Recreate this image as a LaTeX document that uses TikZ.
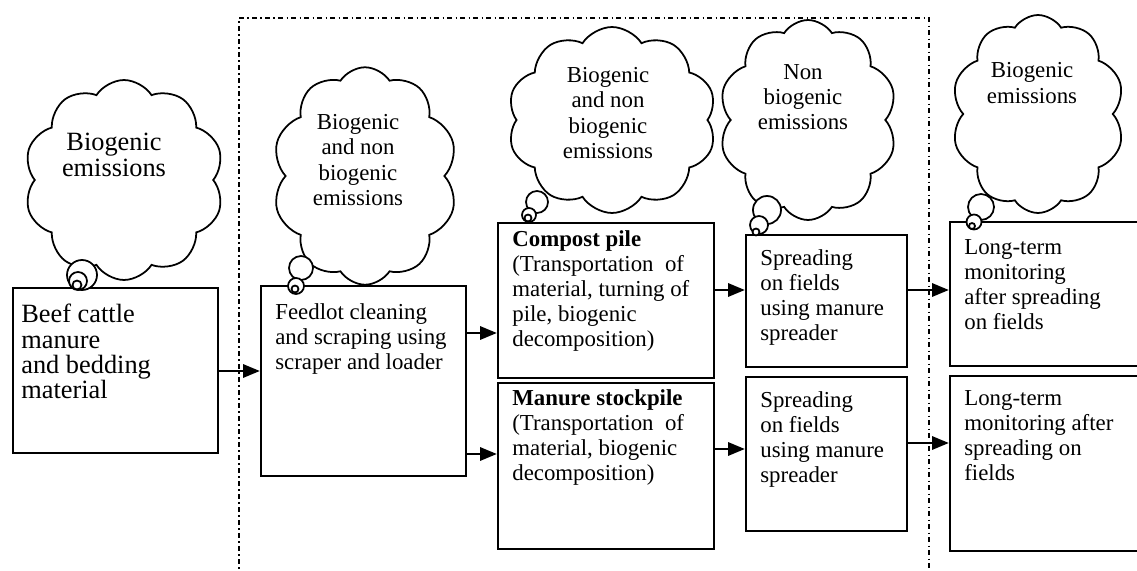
\documentclass[tikz,border=0pt]{standalone}
\usepackage{fontspec}
\setmainfont{Liberation Serif}
\usetikzlibrary{arrows.meta,shapes.symbols,fit}

\newcommand{\flowfont}{\fontsize{13}{14.3}\selectfont}
\newcommand{\sourcefont}{\fontsize{15}{14.4}\selectfont}

\begin{document}
\begin{tikzpicture}[x=0.02cm,y=-0.02cm,
    stage/.style={draw,line width=1.3pt,inner sep=0pt},
    stagetext/.style={anchor=north west,align=left,inner sep=0pt,font=\flowfont},
    thought/.style={cloud,cloud puffs=10,cloud puff arc=115,cloud ignores aspect,draw,fill=white,line width=1pt,inner sep=0pt},
    thoughttext/.style={align=center,inner sep=0pt,font=\flowfont},
    bubble/.style={draw,fill=white,line width=1pt},
    flow/.style={-{Triangle[length=9.5pt,width=7.5pt]},line width=1.3pt},
    region/.style={line width=1.3pt,dash pattern=on 3pt off 1.8pt on 0.8pt off 1.8pt}]

    \clip (0,0) rectangle (1137,571);

    % dash-dot frame, open at the bottom
    \draw[region] (239,590) -- (239,18) -- (929,18) -- (929,590);

    % emission clouds
    \node[thought,minimum width=4.0cm,minimum height=4.0cm] (cloudcattle) at (124,180) {};
    \node[thought,minimum width=3.7cm,minimum height=4.35cm] (cloudfeedlot) at (365,176) {};
    \node[thought,minimum width=4.18cm,minimum height=3.72cm] (cloudcompost) at (612,120) {};
    \node[thought,minimum width=3.56cm,minimum height=4.0cm] (cloudspread) at (808,120) {};
    \node[thought,minimum width=3.46cm,minimum height=3.96cm] (cloudmonitor) at (1038,114) {};

    \node[thoughttext,font=\sourcefont] (emitcattle) at (114,155) {Biogenic\\emissions};
    \node[thoughttext] (emitfeedlot) at (358,160) {Biogenic\\and non\\biogenic\\emissions};
    \node[thoughttext] (emitcompost) at (608,113) {Biogenic\\and non\\biogenic\\emissions};
    \node[thoughttext] (emitspread) at (803,97) {Non\\biogenic\\emissions};
    \node[thoughttext] (emitmonitor) at (1032,83) {Biogenic\\emissions};

    % process boxes
    \node[stage,fit={(13,288) (218,453)}] (cattle) {};
    \node[stage,fit={(261,286) (466,476)}] (feedlot) {};
    \node[stage,fit={(498,223) (714,378)}] (compost) {};
    \node[stage,fit={(498,383) (714,549)}] (stockpile) {};
    \node[stage,fit={(746,235) (907,367)}] (spreadA) {};
    \node[stage,fit={(746,377) (907,531)}] (spreadB) {};
    \node[stage,fit={(950,222) (1150,366)}] (monitorA) {};
    \node[stage,fit={(950,376) (1150,551)}] (monitorB) {};

    \node[stagetext,font=\sourcefont] (cattletext) at (21,304) {Beef cattle\\manure\\and bedding\\material};
    \node[stagetext] (feedlottext) at (275,303) {Feedlot cleaning\\and scraping using\\scraper and loader};
    \node[stagetext] (composttext) at (512,230) {\textbf{Compost pile}\\(Transportation\ \ of\\material, turning of\\pile, biogenic\\decomposition)};
    \node[stagetext] (stockpiletext) at (512,389) {\textbf{Manure stockpile}\\(Transportation\ \ of\\material, biogenic\\decomposition)};
    \node[stagetext] (spreadAtext) at (760,249) {Spreading\\on fields\\using manure\\spreader};
    \node[stagetext] (spreadBtext) at (760,391) {Spreading\\on fields\\using manure\\spreader};
    \node[stagetext] (monitorAtext) at (964,239) {Long-term\\monitoring\\after spreading\\on fields};
    \node[stagetext] (monitorBtext) at (964,390) {Long-term\\monitoring after\\spreading on\\fields};

    % thought bubbles between cloud and box
    \foreach \x/\y/\r in {82/275/15, 78/281/9, 77/285/4.5,
                          301/268/12, 296/286/8, 295/289/3.5,
                          537/202/11, 529/215/7, 528/218/3.5,
                          767/210/14, 759/225/9, 756/232/3.5,
                          981/207/13, 974/222/7.5, 972/226/3}
    \draw[bubble] (\x,\y) circle[radius=\r];

    % flows
    \foreach \from/\to/\y in {cattle/feedlot/371, feedlot/compost/333, feedlot/stockpile/454,
                              compost/spreadA/290, stockpile/spreadB/449,
                              spreadA/monitorA/290, spreadB/monitorB/443}
    \draw[flow] (\from.east |- 0,\y) -- (\to.west |- 0,\y);

\end{tikzpicture}
\end{document}
